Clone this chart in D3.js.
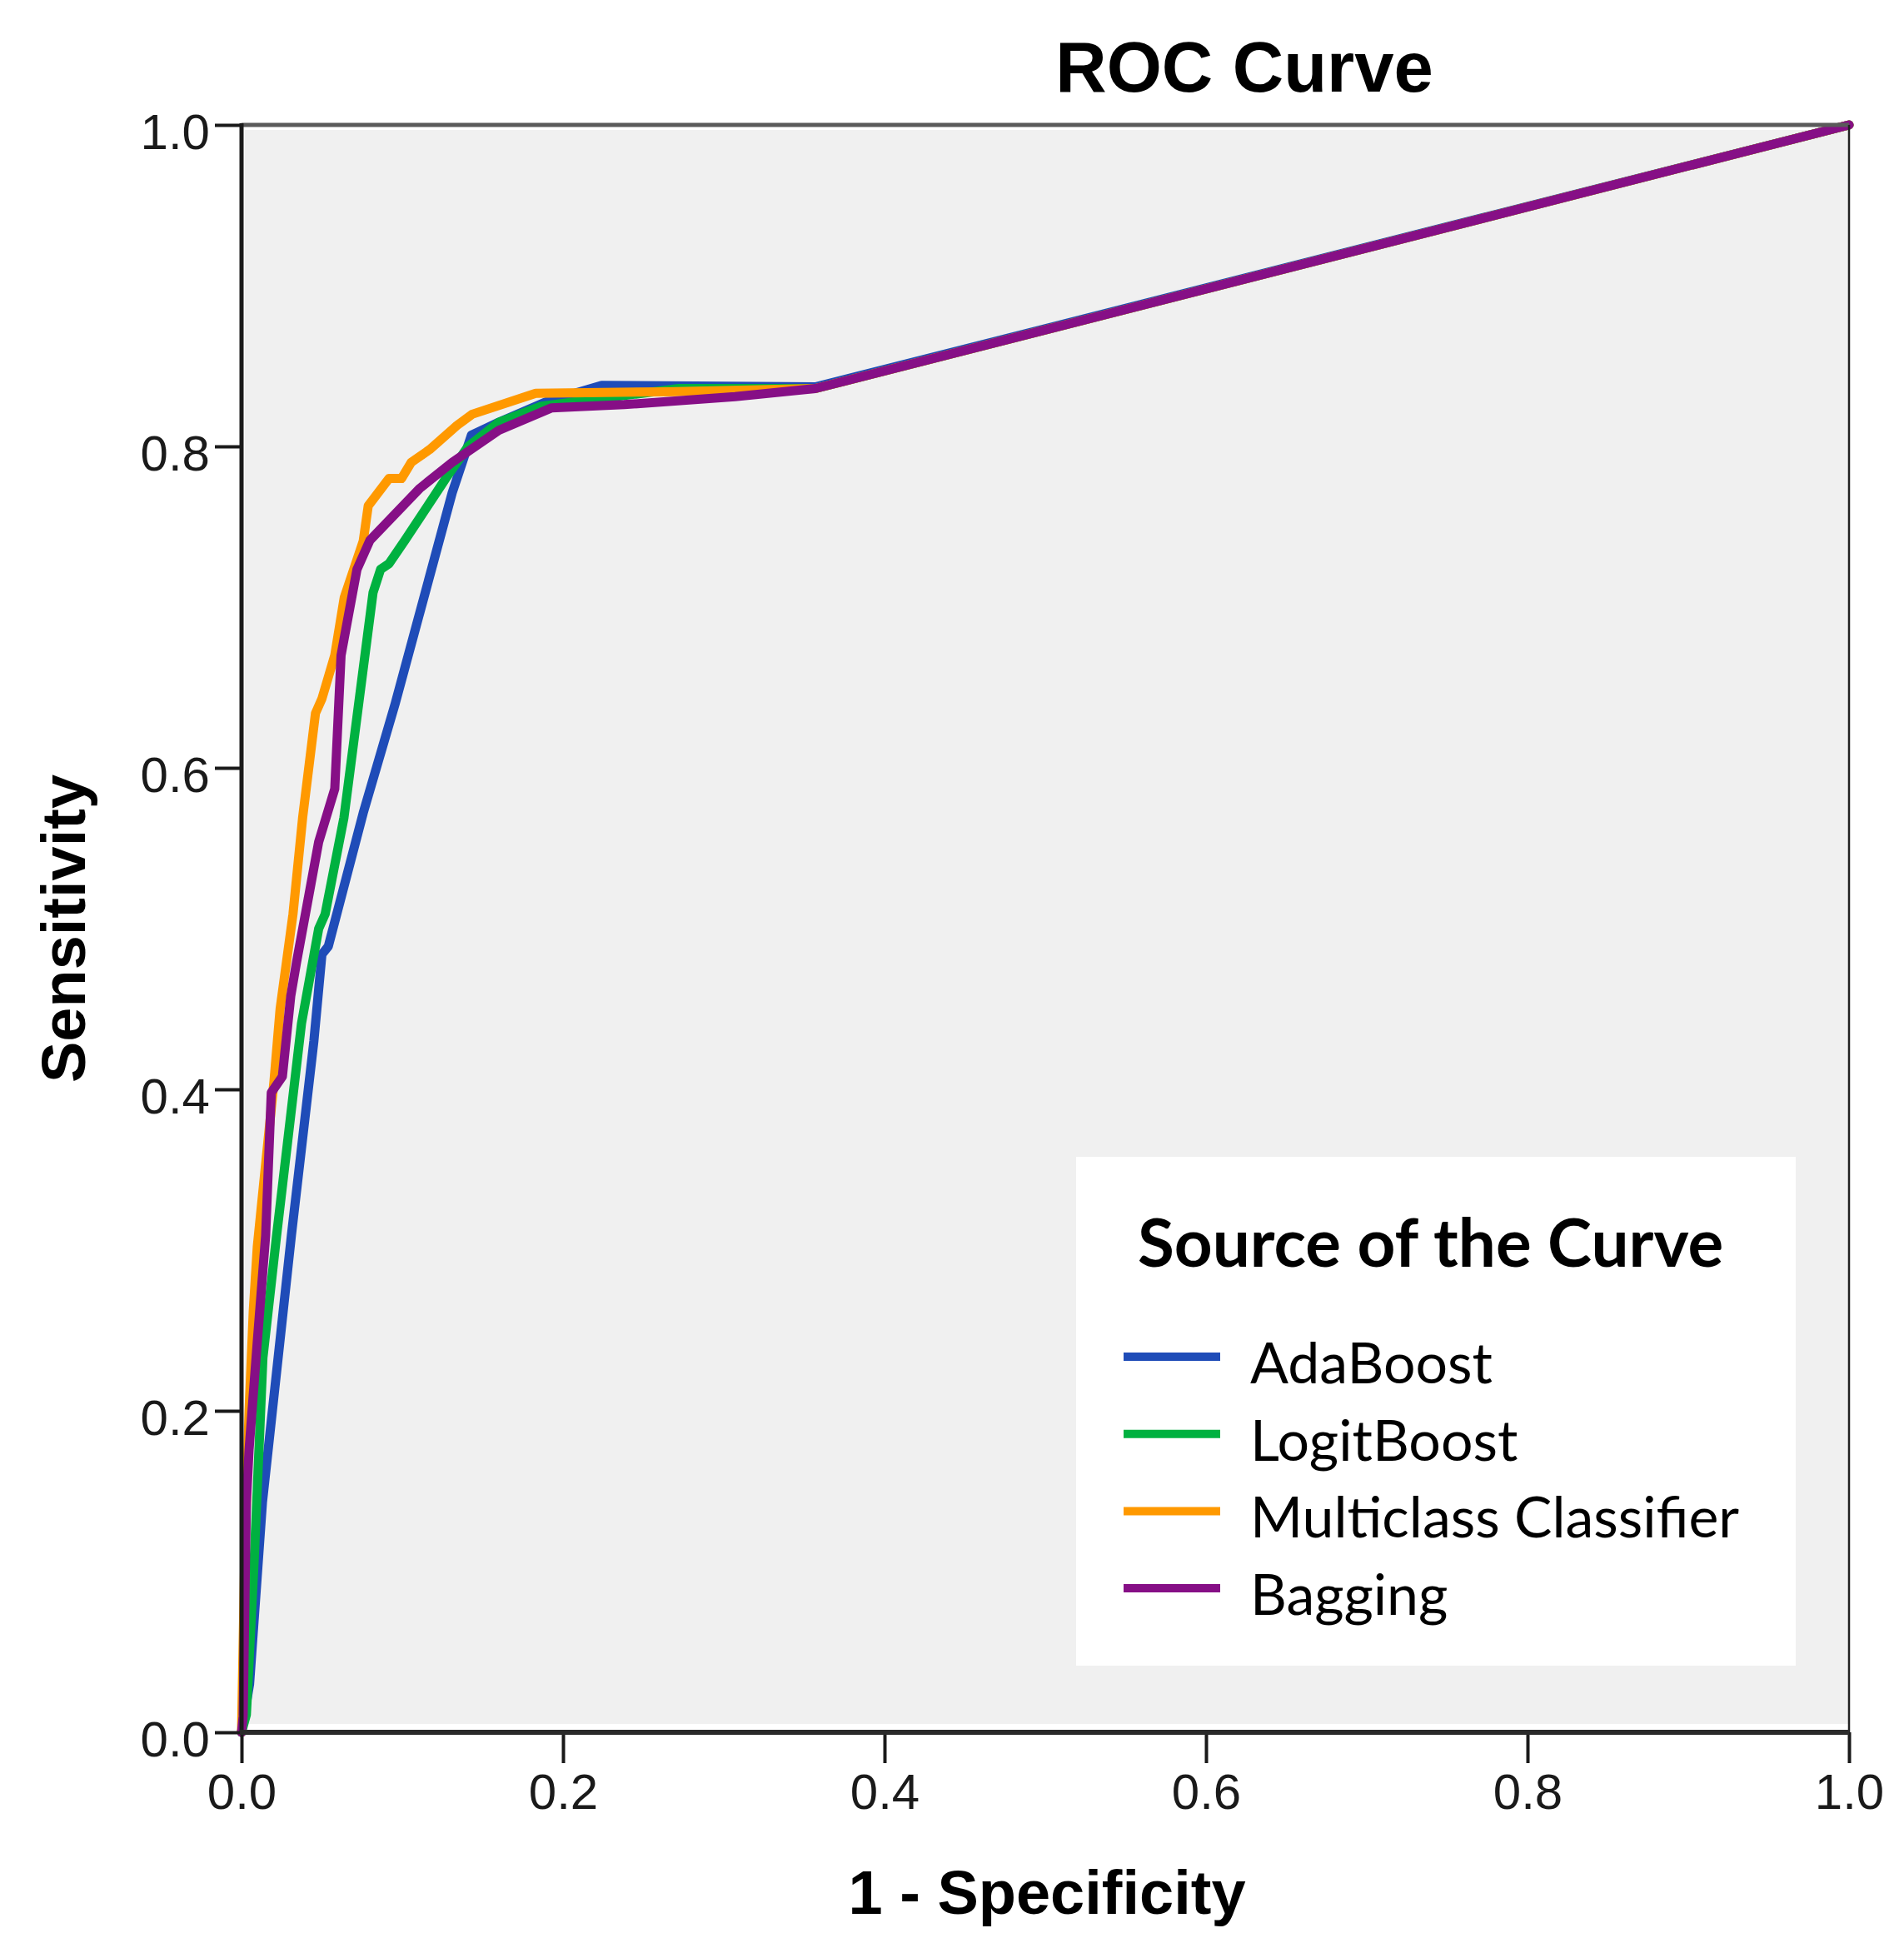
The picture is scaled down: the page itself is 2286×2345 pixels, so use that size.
<!DOCTYPE html>
<html>
<head>
<meta charset="utf-8">
<script src="https://cdn.jsdelivr.net/npm/d3@7"></script>
<style>
  body { margin: 0; background: #fff; }
  svg { display: block; }
</style>
</head>
<body>
<div id="chart"></div>
<script>
// ROC points, [1 - specificity, sensitivity]
var adaBoost = [[0,0],[0.005,0.03],[0.013,0.143],[0.031,0.309],[0.045,0.43],[0.05,0.484],[0.054,0.489],
  [0.0757,0.572],[0.0956,0.64],[0.131,0.771],[0.143,0.807],[0.16,0.815],[0.19,0.828],[0.224,0.838],
  [0.357,0.837],[1,1]]
var logitBoost = [[0,0],[0.003,0.011],[0.008,0.11],[0.0133,0.233],[0.0218,0.309],[0.0373,0.441],[0.048,0.5],
  [0.052,0.509],[0.0637,0.569],[0.0818,0.709],[0.0865,0.7235],[0.0917,0.727],[0.1016,0.7415],[0.127,0.78],
  [0.141,0.80],[0.16,0.815],[0.1865,0.825],[0.272,0.836],[0.357,0.836],[1,1]]
var multiclass = [[0,0],[0.002,0.11],[0.0047,0.2],[0.0073,0.262],[0.0098,0.302],[0.0202,0.405],[0.024,0.45],
  [0.032,0.509],[0.038,0.569],[0.046,0.634],[0.05,0.643],[0.058,0.67],[0.0639,0.706],[0.0757,0.741],
  [0.0788,0.763],[0.0917,0.78],[0.0995,0.78],[0.1055,0.79],[0.117,0.798],[0.134,0.813],[0.1435,0.82],
  [0.183,0.833],[0.264,0.834],[0.357,0.836],[1,1]]
var bagging = [[0,0],[0.001,0.01],[0.003,0.143],[0.0047,0.176],[0.0098,0.243],[0.015,0.309],[0.0185,0.398],
  [0.0254,0.408],[0.0306,0.458],[0.0342,0.479],[0.048,0.554],[0.058,0.587],[0.0619,0.67],[0.0718,0.7235],
  [0.0798,0.7415],[0.111,0.774],[0.131,0.79],[0.16,0.81],[0.193,0.824],[0.238,0.826],[0.307,0.831],
  [0.357,0.836],[1,1]]

var seriesNames = ['AdaBoost', 'LogitBoost', 'Multiclass Classifier', 'Bagging']
var seriesValues = [adaBoost, logitBoost, multiclass, bagging]
var seriesColors = ['#1f4cb8', '#00b140', '#ff9900', '#860f86']
var tickValues = [0, 0.2, 0.4, 0.6, 0.8, 1.0]

var W = 2286, H = 2345
var margin = {left: 290, top: 150}
var pw = 1930, ph = 1930
var axisFont = '"Liberation Sans", Arial, sans-serif'
var legendFont = 'Lato, "Open Sans", sans-serif'

var svg = d3.select('#chart').append('svg').attr('width', W).attr('height', H)

var x = d3.scaleLinear().domain([0, 1]).range([0, pw])
var y = d3.scaleLinear().domain([0, 1]).range([ph, 0])

var g = svg.append('g').attr('transform', 'translate(' + margin.left + ',' + margin.top + ')')

// plot background
g.append('rect').attr('x', 4).attr('y', 6).attr('width', pw - 5).attr('height', ph - 16).attr('fill', '#f0f0f0')

// legend box
var lg = svg.append('g').attr('transform', 'translate(1292,1389)')
lg.append('rect').attr('width', 864).attr('height', 611).attr('fill', '#ffffff')
lg.append('text').attr('x', 74).attr('y', 132)
  .style('font-family', legendFont).style('font-weight', 'bold').style('font-size', '80px')
  .attr('fill', '#000').text('Source of the Curve')

seriesNames.map(function(name, i) {
  var cy = 240 + i * 92.7
  lg.append('line').attr('x1', 57).attr('x2', 173).attr('y1', cy).attr('y2', cy)
    .attr('stroke', seriesColors[i]).attr('stroke-width', 10)
  lg.append('text').attr('x', 209).attr('y', cy + 32)
    .style('font-family', legendFont).style('font-size', '68px')
    .attr('fill', '#000').text(name)
})

// curves, legend order so Bagging ends on top
var line = d3.line().x(function(d) { return x(d[0]) }).y(function(d) { return y(d[1]) })
seriesValues.map(function(vals, i) {
  g.append('path').datum(vals).attr('d', line)
    .attr('fill', 'none').attr('stroke', seriesColors[i]).attr('stroke-width', 11)
    .attr('stroke-linejoin', 'round').attr('stroke-linecap', 'round')
})

// frame
g.append('line').attr('x1', 0).attr('x2', pw).attr('y1', 0).attr('y2', 0).attr('stroke', '#5a5a5a').attr('stroke-width', 5)
g.append('line').attr('x1', pw).attr('x2', pw).attr('y1', 0).attr('y2', ph).attr('stroke', '#222').attr('stroke-width', 2.5)

// axes
var yAxis = d3.axisLeft(y).tickValues(tickValues).tickFormat(d3.format('.1f')).tickSize(32).tickPadding(6)
var xAxis = d3.axisBottom(x).tickValues(tickValues).tickFormat(d3.format('.1f')).tickSize(37).tickPadding(12)

var ya = g.append('g').call(yAxis)
var xa = g.append('g').attr('transform', 'translate(0,' + ph + ')').call(xAxis)
;[ya, xa].map(function(a) {
  a.select('.domain').remove()
  a.selectAll('.tick line').attr('stroke', '#1a1a1a').attr('stroke-width', 4)
  a.selectAll('.tick text').style('font-family', axisFont).style('font-size', '60px').attr('fill', '#1a1a1a')
})
ya.selectAll('.tick text').attr('dy', '0.47em')

g.append('line').attr('x1', 0).attr('x2', 0).attr('y1', -2).attr('y2', ph).attr('stroke', '#1a1a1a').attr('stroke-width', 5)
g.append('line').attr('x1', -2).attr('x2', pw).attr('y1', ph).attr('y2', ph).attr('stroke', '#2a2a2a').attr('stroke-width', 6)

// titles
svg.append('text').attr('x', 1494).attr('y', 110).attr('text-anchor', 'middle')
  .style('font-family', axisFont).style('font-weight', 'bold').style('font-size', '85px').text('ROC Curve')
svg.append('text').attr('x', 1257).attr('y', 2298).attr('text-anchor', 'middle')
  .style('font-family', axisFont).style('font-weight', 'bold').style('font-size', '74px').text('1 - Specificity')
svg.append('text').attr('transform', 'translate(102,1115) rotate(-90)').attr('text-anchor', 'middle')
  .style('font-family', axisFont).style('font-weight', 'bold').style('font-size', '74px').text('Sensitivity')
</script>
</body>
</html>
